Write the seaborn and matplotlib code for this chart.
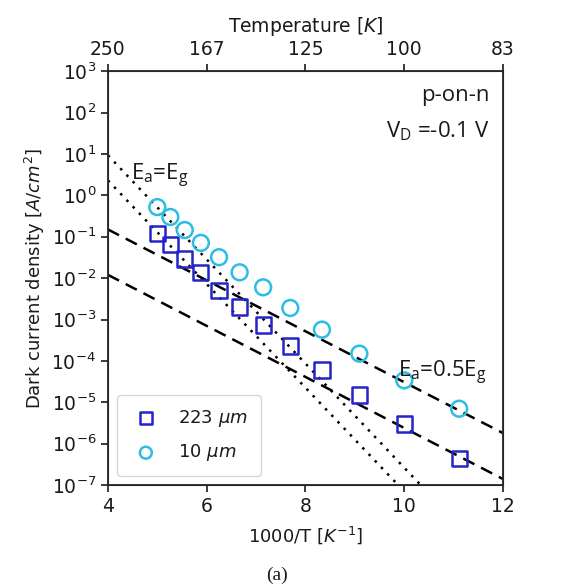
import numpy as np
import pandas as pd
import matplotlib
matplotlib.use("Agg")
import matplotlib.pyplot as plt
import seaborn as sns

# --- data ---
temps = [200, 190, 180, 170, 160, 150, 140, 130, 120, 110, 100, 90]
j_223um = [0.12, 0.066, 0.029, 0.0134, 0.0051, 0.002, 7.4e-4, 2.3e-4, 6e-5, 1.5e-5, 3e-6, 4.3e-7]
j_10um = [0.52, 0.30, 0.145, 0.071, 0.032, 0.0138, 0.006, 0.0019, 5.7e-4, 1.5e-4, 3.4e-5, 7e-6]

# guide lines, values at 1000/T = 4 and 12
guide_x = [4, 12]
half_eg_upper = [0.15, 1.8e-6]
half_eg_lower = [0.012, 1.4e-7]
eg_upper = [9.3, 8.0e-10]
eg_lower = [2.3, 2.2e-10]

top_ticks = [4, 6, 8, 10, 12]
top_labels = ["250", "167", "125", "100", "83"]

sns.set_style("ticks")
plt.rcParams["font.family"] = ["DejaVu Sans"]
plt.rcParams["text.color"] = "#1a1a1a"
plt.rcParams["axes.labelcolor"] = "#1a1a1a"
plt.rcParams["xtick.color"] = "#1a1a1a"
plt.rcParams["ytick.color"] = "#1a1a1a"

df = pd.DataFrame({"inv_t": [1000 / t for t in temps], "j223": j_223um, "j10": j_10um})

fig = plt.figure(figsize=(5.71, 5.88), dpi=100)
ax = fig.add_axes([0.189, 0.175, 0.692, 0.704])

sns.lineplot(x=guide_x, y=half_eg_upper, ax=ax, color="black", lw=1.8, linestyle=(0, (5, 3)))
sns.lineplot(x=guide_x, y=half_eg_lower, ax=ax, color="black", lw=1.8, linestyle=(0, (5, 3)))
sns.lineplot(x=guide_x, y=eg_upper, ax=ax, color="black", lw=1.8, linestyle=(0, (1, 2.6)))
sns.lineplot(x=guide_x, y=eg_lower, ax=ax, color="black", lw=1.8, linestyle=(0, (1, 2.6)))

sns.scatterplot(data=df, x="inv_t", y="j223", ax=ax, marker="s", s=120,
                facecolors="none", edgecolors="#2424c8", linewidth=1.8,
                label=r"223 $\mu m$", zorder=3)
sns.scatterplot(data=df, x="inv_t", y="j10", ax=ax, marker="o", s=130,
                facecolors="none", edgecolors="#2bbde2", linewidth=1.8,
                label=r"10 $\mu m$", zorder=3)

ax.set_yscale("log")
ax.set_xlim(4, 12)
ax.set_ylim(1e-7, 1e3)
ax.set_xticks([4, 6, 8, 10, 12])
ax.set_yticks([10.0 ** k for k in range(-7, 4)])
ax.minorticks_off()
ax.tick_params(labelsize=13.5, length=5, width=1.2)
for sp in ax.spines.values():
    sp.set_linewidth(1.3)
ax.set_xlabel(r"1000/T [$K^{-1}$]", fontsize=13, labelpad=6)
ax.set_ylabel(r"Dark current density [$A/cm^2$]", fontsize=13, labelpad=3)

top = ax.twiny()
top.set_xlim(ax.get_xlim())
top.set_xticks(top_ticks)
top.set_xticklabels(top_labels)
top.tick_params(labelsize=13.5, length=5, width=1.2)
top.set_xlabel(r"Temperature [$K$]", fontsize=13.5, labelpad=6)

ann = ["Open Sans", "DejaVu Sans"]
ax.text(0.965, 0.94, "p-on-n", transform=ax.transAxes, ha="right", va="center", fontsize=16, family=ann)
ax.text(0.965, 0.855, r"V$_\mathregular{D}$ =-0.1 V", transform=ax.transAxes, ha="right", va="center", fontsize=16, family=ann)
ax.text(0.058, 0.748, r"E$_\mathregular{a}$=E$_\mathregular{g}$", transform=ax.transAxes, ha="left", va="center", fontsize=16, family=ann)
ax.text(0.735, 0.27, r"E$_\mathregular{a}$=0.5E$_\mathregular{g}$", transform=ax.transAxes, ha="left", va="center", fontsize=16, family=ann)

leg = ax.legend(loc="lower left", fontsize=13, markerscale=0.75, borderpad=0.7,
                labelspacing=0.75, handletextpad=0.9, handlelength=1.8, frameon=True)
leg.get_frame().set_edgecolor("#cccccc")

fig.text(0.485, 0.022, "(a)", ha="center", va="center", fontsize=14, family="Liberation Serif")

fig.savefig("out.png", dpi=100)
